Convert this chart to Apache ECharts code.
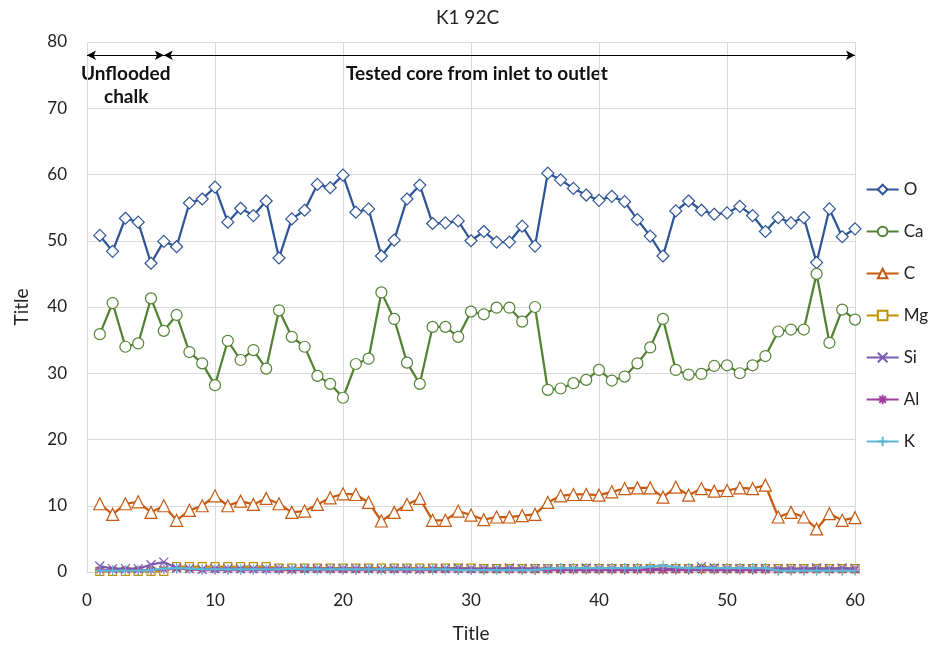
<!DOCTYPE html>
<html>
<head>
<meta charset="utf-8">
<script src="https://cdn.jsdelivr.net/npm/echarts@6/dist/echarts.min.js"></script>
<style>html,body{margin:0;padding:0;background:#fff}#c{width:935px;height:648px}</style>
</head>
<body>
<div id="c"></div>
<script>
const xs = Array.from({length:60},(_, i)=>i+1);
const O = [50.8,48.4,53.4,52.8,46.6,49.9,49.1,55.7,56.3,58.1,52.8,54.9,53.8,56.0,47.4,53.3,54.6,58.5,58.0,59.9,
           54.3,54.8,47.7,50.1,56.3,58.4,52.6,52.7,53.0,50.0,51.4,49.8,49.8,52.2,49.2,60.2,59.2,57.9,56.9,56.1,
           56.7,55.9,53.2,50.7,47.7,54.5,56.0,54.6,54.0,54.2,55.2,53.8,51.4,53.5,52.7,53.5,46.7,54.8,50.6,51.8];
const Ca = [35.9,40.6,34.0,34.5,41.3,36.4,38.8,33.2,31.5,28.2,34.9,32.0,33.5,30.7,39.5,35.5,34.0,29.6,28.4,26.3,
            31.4,32.2,42.2,38.2,31.6,28.4,37.0,37.0,35.5,39.3,38.9,39.9,39.9,37.8,40.0,27.5,27.7,28.5,29.0,30.5,
            28.9,29.5,31.5,33.9,38.2,30.5,29.8,29.9,31.1,31.2,30.0,31.2,32.6,36.3,36.6,36.6,45.0,34.6,39.6,38.1];
const C = [10.3,8.7,10.3,10.6,9.0,10.0,7.8,9.3,10.0,11.5,10.0,10.7,10.2,11.1,10.3,9.0,9.2,10.2,11.2,11.8,
           11.7,10.5,7.7,9.0,10.2,11.1,7.8,7.8,9.2,8.6,7.9,8.3,8.3,8.5,8.7,10.5,11.5,11.7,11.7,11.6,
           12.1,12.6,12.7,12.7,11.3,12.8,11.6,12.6,12.2,12.3,12.7,12.6,13.1,8.3,9.0,8.3,6.5,8.8,7.8,8.2];
const Mg = [0.1,0.1,0.1,0.1,0.1,0.1,0.8,0.8,0.8,0.8,0.8,0.8,0.8,0.8,0.6,0.6,0.6,0.6,0.6,0.6,
            0.6,0.6,0.6,0.6,0.6,0.6,0.6,0.6,0.6,0.6,0.5,0.5,0.5,0.5,0.5,0.5,0.5,0.5,0.5,0.5,
            0.5,0.5,0.5,0.5,0.5,0.5,0.5,0.5,0.5,0.5,0.5,0.5,0.5,0.5,0.5,0.5,0.5,0.5,0.5,0.5];
const Si = [0.9,0.5,0.5,0.5,1.1,1.5,0.6,0.5,0.4,0.5,0.5,0.5,0.5,0.5,0.5,0.4,0.5,0.5,0.5,0.5,
            0.5,0.5,0.4,0.5,0.5,0.4,0.5,0.5,0.6,0.5,0.5,0.5,0.6,0.5,0.5,0.5,0.5,0.5,0.6,0.5,
            0.5,0.5,0.5,0.5,0.4,0.5,0.5,0.8,0.6,0.5,0.5,0.5,0.5,0.5,0.5,0.5,0.6,0.5,0.6,0.5];
const Al = [0.3,0.3,0.3,0.3,0.3,0.4,0.5,0.4,0.3,0.3,0.3,0.3,0.3,0.3,0.3,0.3,0.3,0.3,0.3,0.3,
            0.3,0.3,0.3,0.3,0.3,0.3,0.3,0.3,0.3,0.3,0.3,0.3,0.3,0.3,0.3,0.3,0.3,0.3,0.3,0.3,
            0.3,0.3,0.3,0.3,0.3,0.3,0.3,0.3,0.3,0.3,0.3,0.3,0.3,0.3,0.3,0.3,0.3,0.3,0.3,0.3];
const K = [0.2,0.2,0.2,0.2,0.3,0.5,0.6,0.5,0.4,0.4,0.4,0.4,0.4,0.4,0.4,0.5,0.4,0.4,0.4,0.4,
           0.4,0.4,0.4,0.4,0.4,0.4,0.4,0.4,0.3,0.3,0.3,0.3,0.3,0.3,0.3,0.5,0.6,0.6,0.6,0.6,
           0.6,0.6,0.6,0.8,1.0,0.7,0.6,0.6,0.6,0.6,0.6,0.6,0.6,0.2,0.2,0.2,0.2,0.2,0.2,0.2];
const yTicks = [0,10,20,30,40,50,60,70,80];
const xTicks = [0,10,20,30,40,50,60];

const FONT = 'Lato';
const pair = arr => xs.map((x,i)=>[x, arr[i]]);
const chart = echarts.init(document.getElementById('c'));

function line(name, arr, color, symbol, size, fill, z){
  return {
    name, type:'line', data: pair(arr), symbol, symbolSize:size, z: z,
    lineStyle:{color, width:2.25},
    itemStyle:{color: fill, borderColor: color, borderWidth:1.2},
    emphasis:{disabled:true}, animation:false
  };
}

const xPath = 'path://M0,0L10,10M10,0L0,10';
const starPath = 'path://M5,0L5,10M0,5L10,5M1.5,1.5L8.5,8.5M8.5,1.5L1.5,8.5';
const plusPath = 'path://M5,0L5,10M0,5L10,5';

const series = [
  line('O', O, '#2F5597', 'diamond', 12, '#fff', 2),
  line('Ca', Ca, '#548235', 'circle', 11, '#fff', 3),
  line('C', C, '#C55A11', 'triangle', 12, '#fff', 4),
  line('Mg', Mg, '#BF9000', 'rect', 8, '#fff', 5),
  line('Si', Si, '#7B5BB0', xPath, 9, '#7B5BB0', 6),
  line('Al', Al, '#A040A0', starPath, 9, '#A040A0', 7),
  line('K', K, '#5BB8D6', plusPath, 10, '#5BB8D6', 8)
];
// annotation arrows
series.push({
  type:'line', data:[], silent:true, animation:false,
  markLine:{
    silent:true, symbol:['arrow','arrow'], symbolSize:[7,9],
    lineStyle:{color:'#000', width:1.2, type:'solid'}, label:{show:false},
    data:[
      [{coord:[0,78]},{coord:[6,78]}],
      [{coord:[6,78]},{coord:[60,78]}]
    ]
  }
});

chart.setOption({
  backgroundColor:'#fff',
  animation:false,
  title:{text:'K1 92C', left:'center', top:3,
    textStyle:{fontFamily:FONT, fontSize:19, fontWeight:'normal', color:'#222'}},
  grid:{left:87, right:80, top:42, bottom:72},
  legend:{
    orient:'vertical', right:2, top:176, itemGap:25, itemWidth:32, itemHeight:12,
    textStyle:{fontFamily:FONT, fontSize:17, color:'#222'},
    data:['O','Ca','C','Mg','Si','Al','K']
  },
  xAxis:{
    type:'value', min:0, max:60, interval:10,
    name:'Title', nameLocation:'middle', nameGap:52,
    nameTextStyle:{fontFamily:FONT, fontSize:19, color:'#222'},
    axisLine:{show:true, lineStyle:{color:'#d9d9d9'}}, axisTick:{show:false},
    axisLabel:{fontFamily:FONT, fontSize:17, color:'#222', margin:20,
      formatter: v => xTicks.includes(v) ? String(v) : ''},
    splitLine:{show:true, lineStyle:{color:'#d9d9d9', width:1}}
  },
  yAxis:{
    type:'value', min:0, max:80, interval:10,
    name:'Title', nameLocation:'middle', nameGap:56, nameRotate:90,
    nameTextStyle:{fontFamily:FONT, fontSize:19, color:'#222'},
    axisLine:{show:false}, axisTick:{show:false},
    axisLabel:{fontFamily:FONT, fontSize:17, color:'#222', margin:20,
      formatter: v => yTicks.includes(v) ? String(v) : ''},
    splitLine:{show:true, lineStyle:{color:'#d9d9d9', width:1}}
  },
  graphic:[
    {type:'text', left:81, top:64, style:{text:'Unflooded', font:'bold 19px Lato', fill:'#111'}},
    {type:'text', left:104, top:87, style:{text:'chalk', font:'bold 19px Lato', fill:'#111'}},
    {type:'text', left:346, top:64, style:{text:'Tested core from inlet to outlet', font:'bold 19px Lato', fill:'#111'}}
  ],
  series
});
</script>
</body>
</html>
